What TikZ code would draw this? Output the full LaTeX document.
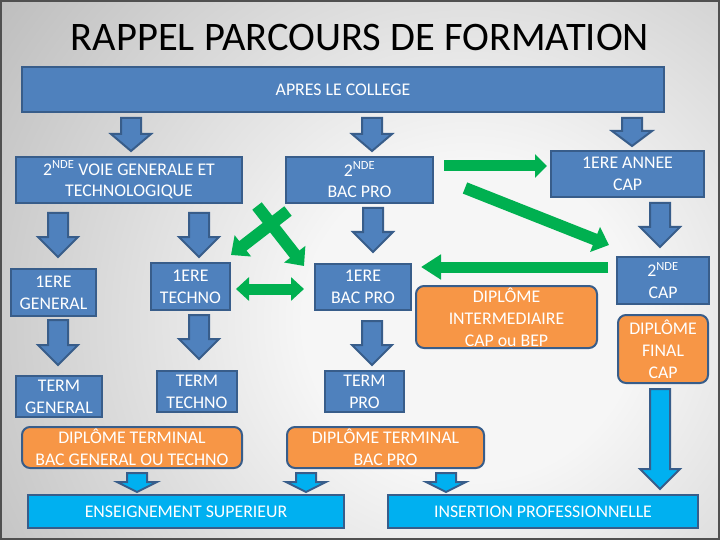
\documentclass[tikz,border=0pt]{standalone}
\usepackage{fontspec}
\setmainfont{Carlito}
\usetikzlibrary{calc, positioning, arrows.meta}

\definecolor{boxblue}{HTML}{4F81BD}
\definecolor{boxedge}{HTML}{385D8A}
\definecolor{diporange}{HTML}{F79646}
\definecolor{skyblue}{HTML}{00B0F0}
\definecolor{arrowgreen}{HTML}{00B050}
\definecolor{bglight}{HTML}{F6F6F6}
\definecolor{bgdark}{HTML}{7E7E7E}
\definecolor{framegray}{HTML}{505050}

\pgfdeclareradialshading{bgshade}{\pgfpoint{0bp}{0bp}}{color(0bp)=(bglight); color(8bp)=(bglight); color(50bp)=(bgdark)}

\begin{document}
\begin{tikzpicture}[x=1pt, y=-1pt,
    box/.style={draw=boxedge, line width=2pt, fill=boxblue, text=white, align=center, inner sep=0pt, font=\fontsize{17.8}{21.8}\selectfont},
    diplome/.style={box, fill=diporange, rounded corners=8pt},
    outbox/.style={box, fill=skyblue},
    blkdown/.style={draw=boxedge, line width=2pt, fill=boxblue, line join=miter,
        to path={let \p1=(\tikztostart), \p2=(\tikztotarget) in
            (\x1-10pt,\y1) -- (\x1+10pt,\y1) -- (\x1+10pt,\y2+#1) -- (\x1+20pt,\y2+#1)
            -- (\x1,\y2) -- (\x1-20pt,\y2+#1) -- (\x1-10pt,\y2+#1) -- cycle}},
    blkdown/.default=20pt,
    skydown/.style={blkdown=#1, fill=skyblue},
    skydown/.default=10pt,
    greenarrow/.style={draw=arrowgreen, line width=11pt, -{Triangle[width=23pt,length=12pt]}},
    crossarrow/.style={draw=arrowgreen, line width=12pt, -{Triangle[width=26pt,length=15pt]}}
]
    % Background and frame
    \useasboundingbox (0,0) rectangle (720,540);
    \begin{scope}
        \clip (0,0) rectangle (720,540);
        \shade[shading=bgshade] (-50,-180) rectangle (990,820);
    \end{scope}
    \draw[framegray, line width=2pt] (1,1) rectangle (719,539);

    % Title
    \node[font=\fontsize{40.5}{46}\selectfont] (title) at (360,38) {RAPPEL PARCOURS DE FORMATION};

    % Define the boxes
    \node[box, minimum width=642pt, minimum height=45pt] (college) at (343,89.5) {APRES LE COLLEGE};

    \node[box, minimum width=226pt, minimum height=46pt] (gvt) at (129,180) {2\textsuperscript{NDE} VOIE GENERALE ET\\TECHNOLOGIQUE};
    \node[box, minimum width=147pt, minimum height=46pt] (bacpro2) at (359.5,180) {2\textsuperscript{NDE}\\BAC PRO};
    \node[box, minimum width=153pt, minimum height=46pt] (capa) at (627.5,174) {1ERE ANNEE\\CAP};

    \node[box, minimum width=85pt, minimum height=47pt] (g1) at (53.5,292.5) {1ERE\\GENERAL};
    \node[box, minimum width=79pt, minimum height=47pt] (t1) at (190.5,286.5) {1ERE\\TECHNO};
    \node[box, minimum width=96pt, minimum height=46pt] (bp1) at (363,287) {1ERE\\BAC PRO};
    \node[box, minimum width=92pt, minimum height=47pt] (cap2) at (663,280.5) {2\textsuperscript{NDE}\\CAP};

    \node[box, minimum width=86pt, minimum height=41pt] (gterm) at (59,396.5) {TERM\\GENERAL};
    \node[box, minimum width=80pt, minimum height=41pt] (tterm) at (197,391.5) {TERM\\TECHNO};
    \node[box, minimum width=79pt, minimum height=41pt] (pterm) at (364.5,391.5) {TERM\\PRO};

    \node[diplome, minimum width=181pt, minimum height=62pt] (dint) at (506.5,317) {DIPLÔME\\INTERMEDIAIRE\\CAP ou BEP};
    \node[diplome, minimum width=90pt, minimum height=68pt] (dfin) at (663,349) {DIPLÔME\\FINAL\\CAP};
    \node[diplome, minimum width=220pt, minimum height=41pt] (dgt) at (132,447.5) {DIPLÔME TERMINAL\\BAC GENERAL OU TECHNO};
    \node[diplome, minimum width=197pt, minimum height=41pt] (dbp) at (385.5,447.5) {DIPLÔME TERMINAL\\BAC PRO};

    \node[outbox, minimum width=316pt, minimum height=33pt] (sup) at (186,511.5) {ENSEIGNEMENT SUPERIEUR};
    \node[outbox, minimum width=310pt, minimum height=33pt] (ins) at (543,511.5) {INSERTION PROFESSIONNELLE};

    % Draw the blue arrows
    \draw[blkdown=17pt] ($(college.south)+(-212,5)$) to ($(gvt.north)+(0,-5)$);
    \draw[blkdown=17pt] ($(college.south)+(29,5)$) to ($(bacpro2.north)+(0,-5)$);
    \draw[blkdown=15pt] ($(college.south)+(289,5)$) to ($(capa.north)+(0,-4)$);

    \draw[blkdown] ($(gvt.south)+(-71,9)$) to ($(g1.north)+(0,-11)$);
    \draw[blkdown] ($(gvt.south)+(70,9)$) to ($(t1.north)+(0,-5)$);
    \draw[blkdown] ($(bacpro2.south)+(13.5,4)$) to ($(bp1.north)+(0,-11)$);
    \draw[blkdown] ($(capa.south)+(32.5,5)$) to ($(cap2.north)+(0,-9)$);

    \draw[blkdown] ($(g1.south)+(4.5,3)$) to ($(gterm.north)+(0,-10)$);
    \draw[blkdown] ($(t1.south)+(8.5,4)$) to ($(tterm.north)+(0,-11)$);
    \draw[blkdown] ($(bp1.south)+(9,10)$) to ($(pterm.north)+(0,-5)$);

    % Draw the light blue arrows
    \draw[skydown] ($(dgt.south)+(5,4)$) to ($(sup.north)+(0,-2)$);
    \draw[skydown] ($(dbp.south)+(-79.5,4)$) to ($(sup.north)+(0,-2)$);
    \draw[skydown] ($(dbp.south)+(60.5,4)$) to ($(ins.north)+(0,-2)$);
    \draw[skydown=20pt] ($(dfin.south)+(-3,5)$) to ($(ins.north)+(0,-5)$);

    % Draw the green arrows
    \draw[greenarrow] ($(bacpro2.east)+(10,-14)$) -- ($(capa.west)+(-3,-8)$);
    \draw[crossarrow] ($(bacpro2.east)+(31,8)$) -- ($(cap2.north west)+(-7,-11)$);
    \draw[crossarrow] ($(bacpro2.south west)+(3,7)$) -- ($(t1.north east)+(0,-7)$);
    \draw[crossarrow] ($(gvt.south east)+(14,2)$) -- ($(bp1.north west)+(-10,3)$);
    \draw[greenarrow, {Triangle[width=23pt,length=13pt]}-{Triangle[width=23pt,length=13pt]}] ($(t1.east)+(5,2.5)$) -- ($(bp1.west)+(-10,2)$);
    \draw[greenarrow, -{Triangle[width=24pt,length=20pt]}] ($(cap2.west)+(-8,-13.5)$) -- ($(bp1.east)+(9,-20)$);

\end{tikzpicture}
\end{document}
